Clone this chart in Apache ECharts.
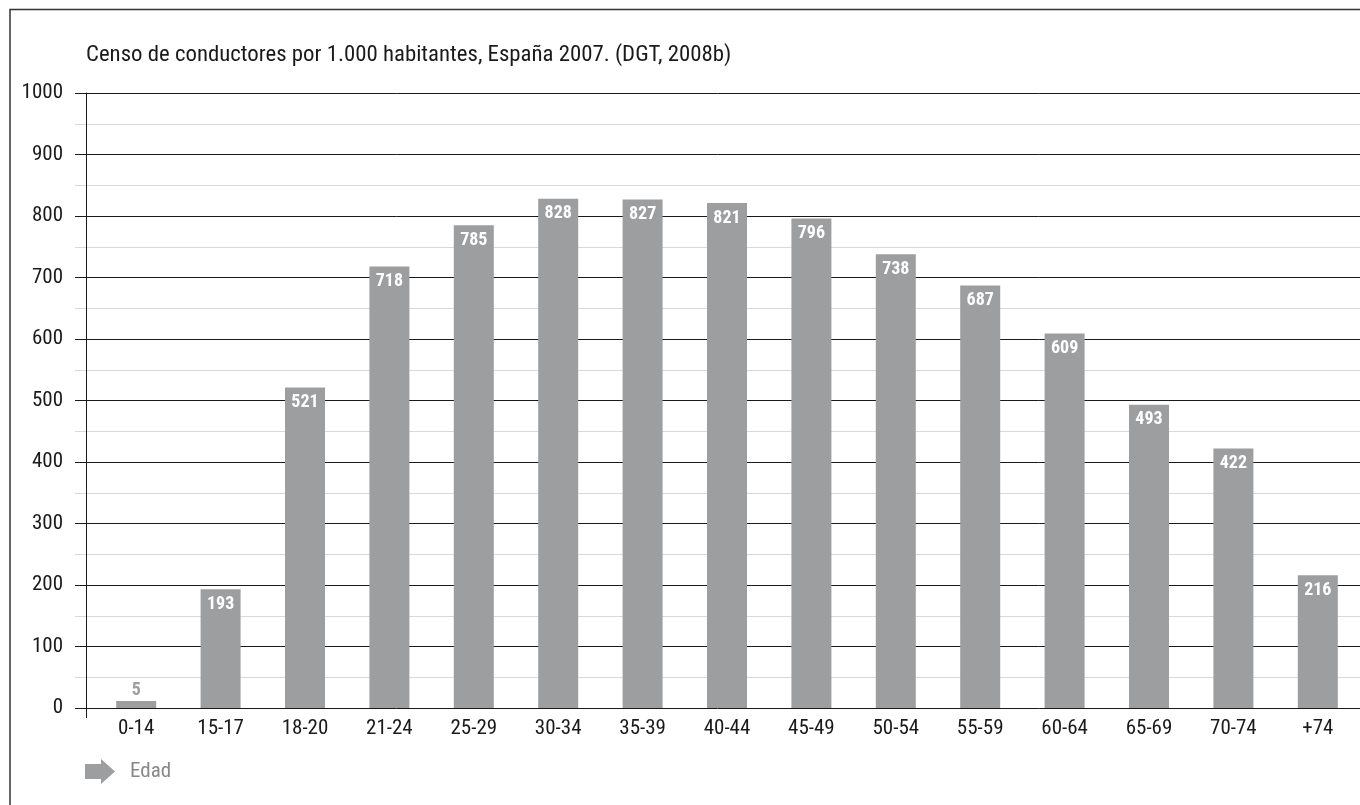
<!DOCTYPE html>
<html>
<head>
<meta charset="utf-8">
<script src="https://cdn.jsdelivr.net/npm/echarts@6/dist/echarts.min.js"></script>
<style>html,body{margin:0;padding:0;background:#fff}#c{width:1360px;height:805px}</style>
</head>
<body>
<div id="c"></div>
<script>
const titleText = 'Censo de conductores por 1.000 habitantes, España 2007. (DGT, 2008b)';
const categories = ['0-14','15-17','18-20','21-24','25-29','30-34','35-39','40-44','45-49','50-54','55-59','60-64','65-69','70-74','+74'];
const values = [5,193,521,718,785,828,827,821,796,738,687,609,493,422,216];
const seriesName = 'Edad';
const yMin = 0, yMax = 1000, yStep = 100;

const FONT = '"Roboto Condensed", Roboto, sans-serif';
const BAR = '#9d9ea0';
const TOP = 93, BOTTOM = 97;

const chart = echarts.init(document.getElementById('c'), null, {renderer:'canvas'});
chart.setOption({
  animation:false,
  backgroundColor:'#fff',
  title:{text:titleText, left:81, top:39, textStyle:{fontFamily:FONT, fontSize:22.8, fontWeight:'normal', color:'#1a1a1a'}},
  legend:{data:[{name:seriesName, icon:'path://M0,5 L16,5 L16,0 L30,12.5 L16,25 L16,20 L0,20 Z'}], left:80, top:754, itemWidth:30, itemHeight:25,
    textStyle:{fontFamily:FONT, fontSize:21, color:'#888', padding:[0,0,0,10]}},
  grid:[
    {left:94, right:0, top:TOP, bottom:BOTTOM, containLabel:false},
    {left:75, right:0, top:TOP, bottom:BOTTOM, containLabel:false}
  ],
  xAxis:[
    {type:'category', gridIndex:0, data:categories, axisLine:{show:false}, axisTick:{show:false},
      axisLabel:{fontFamily:FONT, fontSize:21, color:'#1a1a1a', margin:10}},
    {type:'value', gridIndex:1, min:0, max:1, show:false}
  ],
  yAxis:[
    {type:'value', gridIndex:0, min:yMin, max:yMax, interval:yStep, offset:8,
      axisLine:{show:true, lineStyle:{color:'#1a1a1a', width:1}}, axisTick:{show:false}, splitLine:{show:false},
      axisLabel:{fontFamily:FONT, fontSize:21, color:'#1a1a1a', margin:23, formatter:v=>String(v)}},
    {type:'value', gridIndex:1, min:yMin, max:yMax, interval:yStep,
      axisLine:{show:false}, axisTick:{show:false}, axisLabel:{show:false},
      splitLine:{show:true, lineStyle:{color:'#1a1a1a', width:1}},
      minorTick:{show:false, splitNumber:2},
      minorSplitLine:{show:true, lineStyle:{color:'#d9d9d9', width:1}}}
  ],
  series:[{
    name:seriesName, type:'bar', xAxisIndex:0, yAxisIndex:0, barWidth:40, barMinHeight:7,
    itemStyle:{color:BAR}, z:3,
    data: values.map((v,i)=> i===0 ? {value:v, label:{position:'top', color:'#9d9ea0', distance:2}} : v),
    label:{show:true, position:'insideTop', distance:6, color:'#fff', fontFamily:FONT, fontWeight:'bold', fontSize:18}
  }],
  graphic:[
    {type:'rect', shape:{x:10, y:9.5, width:1400, height:900}, style:{fill:null, stroke:'#333', lineWidth:1.5}, silent:true, z:-1},
    {type:'line', shape:{x1:86.5, y1:708, x2:86.5, y2:718}, style:{stroke:'#1a1a1a', lineWidth:1}, silent:true}
  ]
});
</script>
</body>
</html>
